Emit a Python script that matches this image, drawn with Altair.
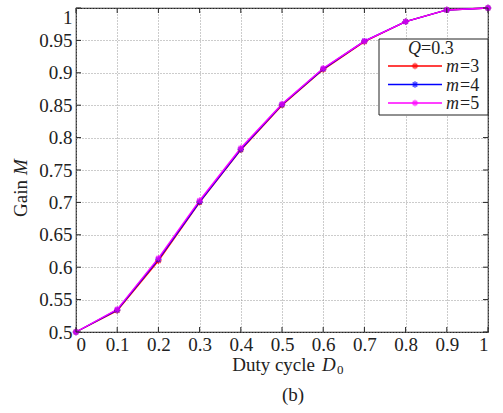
import altair as alt
import pandas as pd

# Gain M versus duty cycle D0 for Q = 0.3 and three values of m
duty = [0.0, 0.1, 0.2, 0.3, 0.4, 0.5, 0.6, 0.7, 0.8, 0.9, 1.0]
gain_m3 = [0.500, 0.533, 0.610, 0.700, 0.781, 0.850, 0.905, 0.948, 0.979, 0.997, 1.000]
gain_m4 = [0.500, 0.534, 0.612, 0.701, 0.782, 0.851, 0.906, 0.949, 0.979, 0.997, 1.000]
gain_m5 = [0.500, 0.535, 0.614, 0.703, 0.784, 0.852, 0.907, 0.949, 0.979, 0.997, 1.000]

series_names = ["m=3", "m=4", "m=5"]
series_colors = ["#ff0000", "#0000ff", "#ff00ff"]
legend_title = ("Q", "=0.3")

x_ticks = duty
y_ticks = [0.5, 0.55, 0.6, 0.65, 0.7, 0.75, 0.8, 0.85, 0.9, 0.95, 1.0]

W, H = 412, 324
SERIF = "Liberation Serif"
INK = "#222222"
ASTERISK = "M-1,0L1,0M0,-1L0,1M-0.7,-0.7L0.7,0.7M-0.7,0.7L0.7,-0.7"

rows = []
for name, color, values in zip(series_names, series_colors, [gain_m3, gain_m4, gain_m5]):
    for d, g in zip(duty, values):
        rows.append({"D": d, "M": g, "series": name, "color": color})
df = pd.DataFrame(rows)

x_scale = alt.Scale(domain=[0, 1], nice=False, zero=False)
y_scale = alt.Scale(domain=[0.5, 1], nice=False, zero=False)

# the top label sits just under the frame instead of being centred on it
top_label_baseline = {"condition": {"test": "datum.value == 1", "value": "top"},
                      "value": "middle"}


def xenc(field):
    return alt.X(field, type="quantitative", scale=x_scale,
                 axis=alt.Axis(values=x_ticks, format=".1~f", title=None))


def yenc(field):
    return alt.Y(field, type="quantitative", scale=y_scale,
                 axis=alt.Axis(values=y_ticks, format=".2~f", title=None,
                               labelBaseline=top_label_baseline))


base = alt.Chart(df)
lines = base.mark_line(strokeWidth=1.4).encode(
    x=xenc("D"), y=yenc("M"),
    color=alt.Color("color:N", scale=None),
    detail="series:N",
)
points = base.mark_point(shape=ASTERISK, size=40, filled=False, strokeWidth=1.4).encode(
    x=xenc("D"), y=yenc("M"),
    color=alt.Color("color:N", scale=None),
)

# inward tick marks on all four sides
xt = alt.Chart(pd.DataFrame({"t": x_ticks}))
yt = alt.Chart(pd.DataFrame({"t": y_ticks}))
tick_style = dict(color=INK, strokeWidth=1)
ticks = [
    xt.mark_rule(**tick_style).encode(x=xenc("t"), y=alt.value(H), y2=alt.value(H - 5)),
    xt.mark_rule(**tick_style).encode(x=xenc("t"), y=alt.value(0), y2=alt.value(5)),
    yt.mark_rule(**tick_style).encode(y=yenc("t"), x=alt.value(0), x2=alt.value(5)),
    yt.mark_rule(**tick_style).encode(y=yenc("t"), x=alt.value(W), x2=alt.value(W - 5)),
]

one = alt.Chart(pd.DataFrame({"k": [0]}))


def label(text, x, y, size=19, italic=False, align="left", baseline="alphabetic", angle=0):
    kw = dict(text=text, font=SERIF, fontSize=size, color=INK, align=align, baseline=baseline)
    if italic:
        kw["fontStyle"] = "italic"
    if angle:
        kw["angle"] = angle
    return one.mark_text(**kw).encode(x=alt.value(x), y=alt.value(y))


# axis titles and caption
titles = [
    label("Duty cycle", 239, 363, align="right"),
    label("D", 246, 363, italic=True),
    label("0", 261, 366, size=13),
    label("(b)", 217, 393, align="center"),
    label("Gain", -49, 172, align="right", angle=270),
    label("M", -49, 167, italic=True, angle=270),
]

# legend box
legend = [
    one.mark_rect(fill="white", stroke=INK, strokeWidth=1).encode(
        x=alt.value(303), x2=alt.value(W), y=alt.value(31), y2=alt.value(107)),
    label(legend_title[0], 345, 46, size=18, italic=True, align="right"),
    label(legend_title[1], 345, 46, size=18),
]
for i, (name, color) in enumerate(zip(series_names, series_colors)):
    ry = 58 + 18.5 * i
    var, rest = name.split("=")
    legend += [
        one.mark_rule(color=color, strokeWidth=1.4).encode(
            x=alt.value(312), x2=alt.value(366), y=alt.value(ry)),
        one.mark_point(shape=ASTERISK, size=40, filled=False, strokeWidth=1.4, color=color).encode(
            x=alt.value(339), y=alt.value(ry)),
        label(var, 370, ry + 6, size=18, italic=True),
        label("=" + rest, 384, ry + 6, size=18),
    ]

chart = alt.layer(lines, points, *ticks, *titles, *legend).properties(
    width=W, height=H,
    autosize=alt.AutoSizeParams(type="none"),
    padding={"left": 76, "top": 8, "right": 15, "bottom": 81},
).configure_view(
    stroke=INK, strokeWidth=1.2
).configure_axis(
    grid=True, gridDash=[1, 2], gridColor="#999999", gridWidth=1,
    domain=False, ticks=False,
    labelFont=SERIF, labelFontSize=19, labelColor=INK,
).configure_axisX(labelPadding=3).configure_axisY(labelPadding=4)

chart.save("out.html", embed_options={"renderer": "svg", "actions": False})
